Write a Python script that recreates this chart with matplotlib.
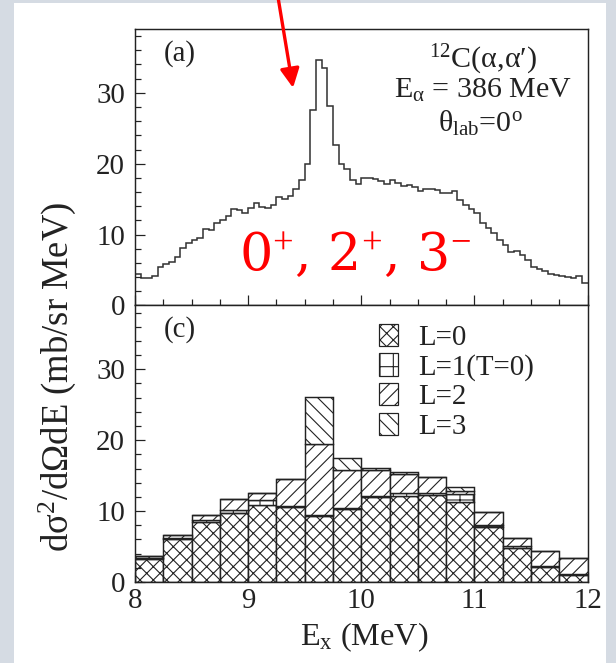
import numpy as np
import matplotlib
matplotlib.use('Agg')
import matplotlib.pyplot as plt
from matplotlib.patches import Rectangle, Patch

plt.rcParams['font.family'] = ['Liberation Serif', 'DejaVu Serif']
plt.rcParams['mathtext.fontset'] = 'custom'
plt.rcParams['mathtext.rm'] = 'Liberation Serif'
plt.rcParams['mathtext.it'] = 'Liberation Serif:italic'
plt.rcParams['hatch.linewidth'] = 1.0

# (a) inclusive spectrum, 0.05 MeV bins from 8 to 12 MeV
ex_lo, ex_hi = 8.0, 12.0
spectrum = [4.5, 3.9, 3.9, 4.1, 5.4, 5.8, 6.2, 6.9, 8.1, 8.8,
            9.2, 9.5, 10.8, 10.7, 11.6, 12.0, 12.6, 13.6, 13.5, 13.1,
            13.7, 14.4, 13.9, 13.8, 14.2, 15.3, 15.0, 15.4, 16.4, 17.7,
            20.0, 27.6, 34.6, 33.5, 28.1, 22.7, 20.0, 19.3, 17.7, 17.1,
            18.0, 18.0, 17.8, 17.5, 17.2, 17.7, 17.3, 16.8, 17.0, 16.7,
            16.2, 16.5, 16.5, 16.3, 15.8, 15.9, 16.2, 14.9, 14.2, 13.6,
            13.0, 11.6, 10.9, 10.2, 9.3, 8.5, 7.6, 7.7, 7.1, 6.4,
            5.5, 5.1, 4.9, 4.5, 4.3, 4.1, 4.0, 3.9, 4.1, 3.2]

# (c) multipole decomposition, 0.25 MeV bins
bin_left = [8.0, 8.25, 8.5, 8.75, 9.0, 9.25, 9.5, 9.75,
            10.0, 10.25, 10.5, 10.75, 11.0, 11.25, 11.5, 11.75]
l0 = [3.2, 6.0, 8.4, 9.8, 10.9, 10.6, 9.3, 10.3, 12.0, 12.2, 12.3, 11.3, 7.8, 4.75, 2.15, 1.05]
l1 = [0.2, 0.2, 0.3, 0.3, 0.6, 0.1, 0.2, 0.2, 0.2, 0.3, 0.3, 1.1, 0.3, 0.3, 0.1, 0.1]
l2 = [0.3, 0.4, 0.7, 1.6, 1.1, 3.8, 10.0, 5.3, 3.6, 2.8, 2.2, 0.5, 1.8, 1.2, 2.1, 2.3]
l3 = [0.0, 0.0, 0.0, 0.0, 0.0, 0.0, 6.6, 1.7, 0.3, 0.2, 0.05, 0.5, 0.0, 0.0, 0.0, 0.0]
labels = ['L=0', 'L=1(T=0)', 'L=2', 'L=3']
hatches = ['xx', '+', '//', '\\\\']

ink = '#222222'
fs = 26

fig = plt.figure(figsize=(616 / 80, 663 / 80), dpi=80, facecolor='#d5dbe3')
fig.patches.append(Rectangle((14 / 616, 0), 592 / 616, 660 / 663, transform=fig.transFigure,
                             facecolor='white', edgecolor='none', zorder=-10))

ax1 = fig.add_axes([135 / 616, 1 - 305.5 / 663, 452.5 / 616, 276.5 / 663])
ax2 = fig.add_axes([135 / 616, 1 - 582 / 663, 452.5 / 616, 276.5 / 663])

for ax in (ax1, ax2):
    ax.set_xlim(ex_lo, ex_hi)
    ax.set_ylim(0, 39)
    ax.set_xticks(np.arange(8, 12.01, 1))
    ax.set_xticks(np.arange(8, 12.01, 0.25), minor=True)
    ax.set_yticks([0, 10, 20, 30])
    ax.set_yticks(np.arange(0, 39, 2), minor=True)
    ax.tick_params(which='both', direction='in', left=True, bottom=True, top=False, right=False,
                   color=ink, width=1.1, labelsize=fs, labelcolor=ink)
    ax.tick_params(which='major', length=9)
    ax.tick_params(which='minor', length=5)
    ax.tick_params(axis='y', pad=9)
    for s in ax.spines.values():
        s.set_linewidth(1.3)
        s.set_color(ink)

ax1.tick_params(labelbottom=False)
ax2.tick_params(axis='x', pad=5)

# top panel: step spectrum
edges = np.linspace(ex_lo, ex_hi, len(spectrum) + 1)
ax1.stairs(spectrum, edges, baseline=None, color='#333333', lw=1.4)
ax1.text(8.25, 34.6, '(a)', fontsize=fs, color=ink)
ax1.text(11.08, 33.5, r'$^{12}$C(α,α′)', fontsize=27, color=ink, ha='center')
ax1.text(11.08, 29.3, r'E$_\mathrm{α}$ = 386 MeV', fontsize=27, color=ink, ha='center')
ax1.text(11.05, 24.5, r'θ$_\mathrm{lab}$=0$^\mathrm{o}$', fontsize=27, color=ink, ha='center')
ax1.text(9.94, 5.0, r'0$^{+}$, 2$^{+}$, 3$^{-}$', fontsize=47, color='red', ha='center',
         va='baseline', family='DejaVu Serif')
ax1.annotate('', xy=(9.397, 30.7), xytext=(9.264, 43.5), annotation_clip=False,
             arrowprops=dict(arrowstyle='-|>,head_length=0.9,head_width=0.45', mutation_scale=16,
                             color='red', lw=3, shrinkA=0, shrinkB=0))

# bottom panel: stacked multipole contributions
bottom = np.zeros(len(bin_left))
for vals, lab, h in zip([l0, l1, l2, l3], labels, hatches):
    ax2.bar(bin_left, vals, width=0.25, align='edge', bottom=bottom, facecolor='white',
            edgecolor=ink, hatch=h, lw=1.3)
    bottom += np.array(vals)
ax2.text(8.25, 34.6, '(c)', fontsize=fs, color=ink)
handles = [Patch(facecolor='white', edgecolor=ink, hatch=h, lw=1.1) for h in hatches]
ax2.legend(handles, labels, loc='upper left', bbox_to_anchor=(0.507, 0.985), frameon=False,
           fontsize=fs, handlelength=0.65, handleheight=0.8, handletextpad=0.7,
           labelspacing=0.08, borderpad=0, labelcolor=ink)

fig.text(364 / 616, 1 - 645 / 663, r'E$_\mathrm{x}$ (MeV)', fontsize=29, color=ink, ha='center',
         va='baseline')
fig.text(57 / 616, 1 - 377 / 663, r'dσ$^\mathrm{2}$/dΩdE (mb/sr MeV)', fontsize=33, color=ink,
         rotation=90, ha='center', va='center')

fig.savefig('out.png', dpi=80, facecolor=fig.get_facecolor())
